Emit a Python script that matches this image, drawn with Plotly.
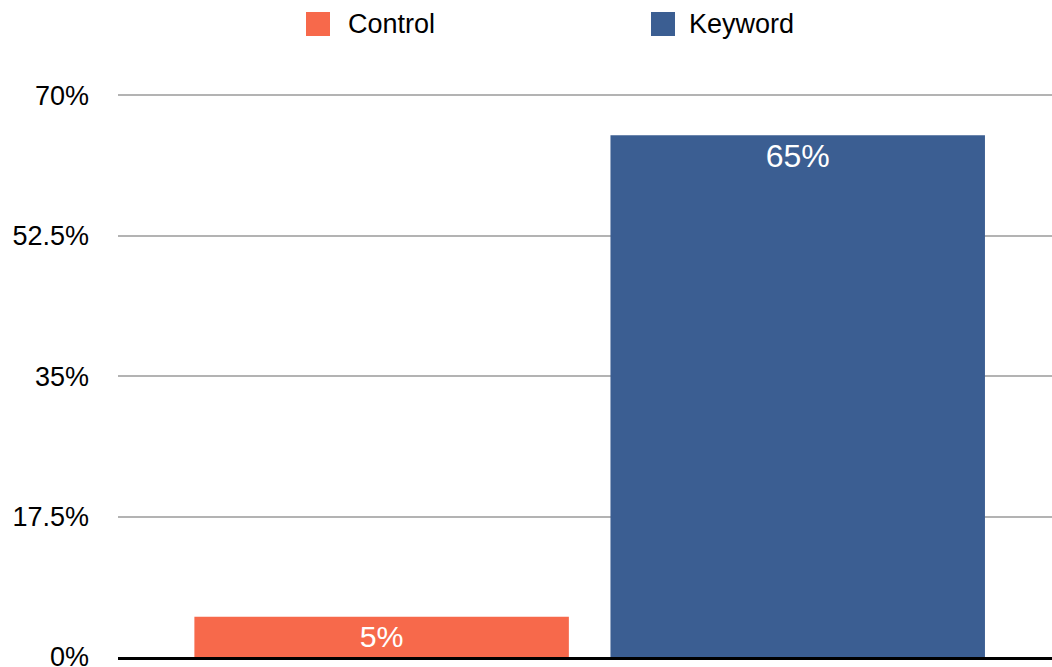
import plotly.graph_objects as go

series_names = ["Control", "Keyword"]
values = [5, 65]
bar_labels = ["5%", "65%"]
colors = ["#F7694B", "#3B5E92"]
tick_vals = [0, 17.5, 35, 52.5, 70]
tick_text = ["0%", "17.5%", "35%", "52.5%", "70%"]
category = [""]

FONT = "Liberation Sans, Arial, Helvetica, sans-serif"

W, H = 1052, 667
ML, MR, MT, MB = 118, 0, 94, 10
PW, PH = W - ML - MR, H - MT - MB


def px_x(p):
    return (p - ML) / PW


def px_y(p):
    return (H - MB - p) / PH


fig = go.Figure()
anchors = ["middle", "end"]
for name, v, lab, c, anc in zip(series_names, values, bar_labels, colors, anchors):
    fig.add_trace(go.Bar(
        name=name, x=category, y=[v], text=[lab],
        marker=dict(color=c, line=dict(width=0)),
        textposition="inside", insidetextanchor=anc,
        textfont=dict(color="white", size=32, family=FONT),
        hoverinfo="skip", showlegend=False,
    ))

# custom legend (large square swatches as in the reference)
legend_sq_left = [306, 651]
legend_txt_left = [346, 687]
for name, c, sx, tx in zip(series_names, colors, legend_sq_left, legend_txt_left):
    fig.add_shape(type="rect", xref="paper", yref="paper",
                  x0=px_x(sx), x1=px_x(sx + 24), y0=px_y(36), y1=px_y(12),
                  fillcolor=c, line=dict(width=0))
    fig.add_annotation(text=name, xref="paper", yref="paper",
                       x=px_x(tx), y=px_y(24), xanchor="left", yanchor="middle",
                       showarrow=False, font=dict(size=27, family=FONT, color="black"))

fig.update_layout(
    width=W, height=H,
    margin=dict(l=ML, r=MR, t=MT, b=MB, pad=0, autoexpand=False),
    paper_bgcolor="white", plot_bgcolor="white",
    barmode="group", bargap=0.109, bargroupgap=0.1,
    font=dict(family=FONT, size=27, color="black"),
    showlegend=False,
    uniformtext=dict(mode=False),
)
fig.update_xaxes(type="category", range=[-0.505, 0.495], showticklabels=False,
                 showgrid=False, zeroline=False, fixedrange=True, automargin=False,
                 showline=True, linecolor="black", linewidth=2.5, mirror=False)
fig.update_yaxes(range=[0, 70.15], tickvals=tick_vals, ticktext=tick_text,
                 showgrid=True, gridcolor="#B3B3B3", gridwidth=2,
                 zeroline=False, showline=False, automargin=False,
                 ticks="", ticklabelstandoff=28, ticklabeloverflow="allow",
                 tickfont=dict(size=27, family=FONT, color="black"))

fig.write_html("out.html", config={"displayModeBar": False},
               post_script="document.body.style.margin='0';document.body.style.overflow='hidden';")
